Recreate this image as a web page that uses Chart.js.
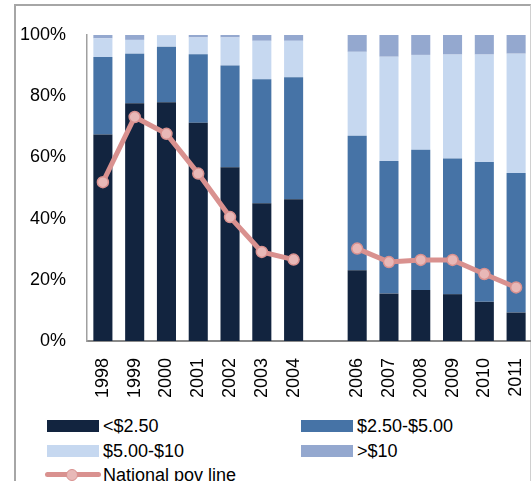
<!DOCTYPE html>
<html>
<head>
<meta charset="utf-8">
<script src="https://cdn.jsdelivr.net/npm/chart.js@4.4.0/dist/chart.umd.min.js"></script>
<style>
  html, body { margin: 0; padding: 0; background: #fff; overflow: hidden; width: 531px; height: 481px; }
  #wrap { position: relative; width: 531px; height: 481px; overflow: hidden; }
  #frame { position: absolute; left: 14px; top: 4px; width: 514px; height: 520px;
           border-top: 2px solid #a6a6a6; border-left: 2px solid #a6a6a6; border-right: 1px solid #d0d0d0; }
  #grafico { position: absolute; left: 0; top: 0; }
  .leg { position: absolute; font-family: "Liberation Sans", Arial, sans-serif; font-size: 18px; color: #000;
         line-height: 18px; white-space: nowrap; }
  .sw { position: absolute; width: 52px; height: 12px; }
</style>
</head>
<body>
<div id="wrap">
  <div id="frame"></div>
  <canvas id="grafico" width="560" height="400"></canvas>
  <div id="legenda"></div>
</div>
<script>
// dados
const anos = ['1998', '1999', '2000', '2001', '2002', '2003', '2004', '', '2006', '2007', '2008', '2009', '2010', '2011'];
const abaixo250 = [67.5, 77.7, 78.0, 71.3, 56.8, 45.0, 46.3, null, 23.1, 15.5, 16.7, 15.3, 12.8, 9.3];
const de250a500 = [25.3, 16.2, 18.2, 22.4, 33.2, 40.5, 39.9, null, 44.0, 43.3, 45.8, 44.3, 45.7, 45.6];
const de500a10 = [6.1, 4.5, 3.7, 5.5, 9.2, 12.6, 11.9, null, 27.4, 34.1, 31.0, 34.0, 35.1, 39.0];
const acima10 = [1.1, 1.6, 0.1, 0.8, 0.8, 1.9, 1.9, null, 5.5, 7.1, 6.5, 6.4, 6.4, 6.1];
const linhaPobreza = [51.9, 73.2, 67.7, 54.7, 40.5, 29.1, 26.6, null, 30.2, 25.8, 26.5, 26.5, 21.9, 17.5];
const ticksY = [0, 20, 40, 60, 80, 100];

const fonte = { family: '"Liberation Sans", Arial, sans-serif', size: 18 };

function barra(label, data, cor) {
  return {
    type: 'bar', label, data, backgroundColor: cor, order: 1, stack: 'renda',
    barPercentage: 0.6, categoryPercentage: 1.0, borderWidth: 0
  };
}

const ctx = document.getElementById('grafico').getContext('2d');
const grafico = new Chart(ctx, {
  data: {
    labels: anos,
    datasets: [
      barra('<$2.50', abaixo250, '#12243f'),
      barra('$2.50-$5.00', de250a500, '#4673a6'),
      barra('$5.00-$10', de500a10, '#c6d8f0'),
      barra('>$10', acima10, '#94a8cf'),
      {
        type: 'line', label: 'National pov line', data: linhaPobreza, stack: 'linha', order: 0,
        borderColor: '#d9918f', borderWidth: 5, pointRadius: 5.5, pointBackgroundColor: '#e8b8b7',
        pointBorderColor: '#d9918f', pointBorderWidth: 1.5, spanGaps: false, tension: 0
      }
    ]
  },
  options: {
    responsive: false,
    animation: false,
    layout: { padding: { left: 0, right: 28, top: 35, bottom: 0 } },
    plugins: { legend: { display: false }, tooltip: { enabled: false } },
    scales: {
      x: {
        stacked: true,
        grid: { display: false, drawTicks: false },
        border: { display: true, color: '#8a8a8a', width: 2 },
        ticks: { font: fonte, color: '#000', minRotation: 90, maxRotation: 90, padding: 17, autoSkip: false },
        afterFit: (s) => { s.height = 59; }
      },
      y: {
        stacked: true, min: 0, max: 100,
        afterBuildTicks: (s) => { s.ticks = ticksY.map(v => ({ value: v })); },
        grid: { display: false, drawTicks: false },
        border: { display: true, color: '#a0a0a0', width: 1.5 },
        ticks: { font: fonte, color: '#000', padding: 21, callback: (v) => v + '%' },
        afterFit: (s) => { s.width = 87; }
      }
    }
  }
});

// legenda em HTML, montada a partir dos datasets
const posicoes = [[47, 420], [301, 420], [47, 445], [301, 445], [47, 469]];
const legenda = document.getElementById('legenda');
grafico.data.datasets.forEach((ds, i) => {
  const [x, y] = posicoes[i];
  if (ds.type === 'bar') {
    const sw = document.createElement('div');
    sw.className = 'sw';
    sw.style.left = x + 'px';
    sw.style.top = y + 'px';
    sw.style.background = ds.backgroundColor;
    legenda.appendChild(sw);
  } else {
    const ln = document.createElement('div');
    ln.style.cssText = `position:absolute;left:${x - 2}px;top:${y + 3}px;width:56px;height:5px;border-radius:3px;background:${ds.borderColor}`;
    legenda.appendChild(ln);
    const pt = document.createElement('div');
    pt.style.cssText = `position:absolute;left:${x + 19}px;top:${y - 0.5}px;width:10px;height:10px;border-radius:50%;background:${ds.pointBackgroundColor};border:1.5px solid ${ds.borderColor}`;
    legenda.appendChild(pt);
  }
  const tx = document.createElement('div');
  tx.className = 'leg';
  tx.textContent = ds.label;
  tx.style.left = (x + 56) + 'px';
  tx.style.top = (y - 3) + 'px';
  legenda.appendChild(tx);
});
</script>
</body>
</html>
